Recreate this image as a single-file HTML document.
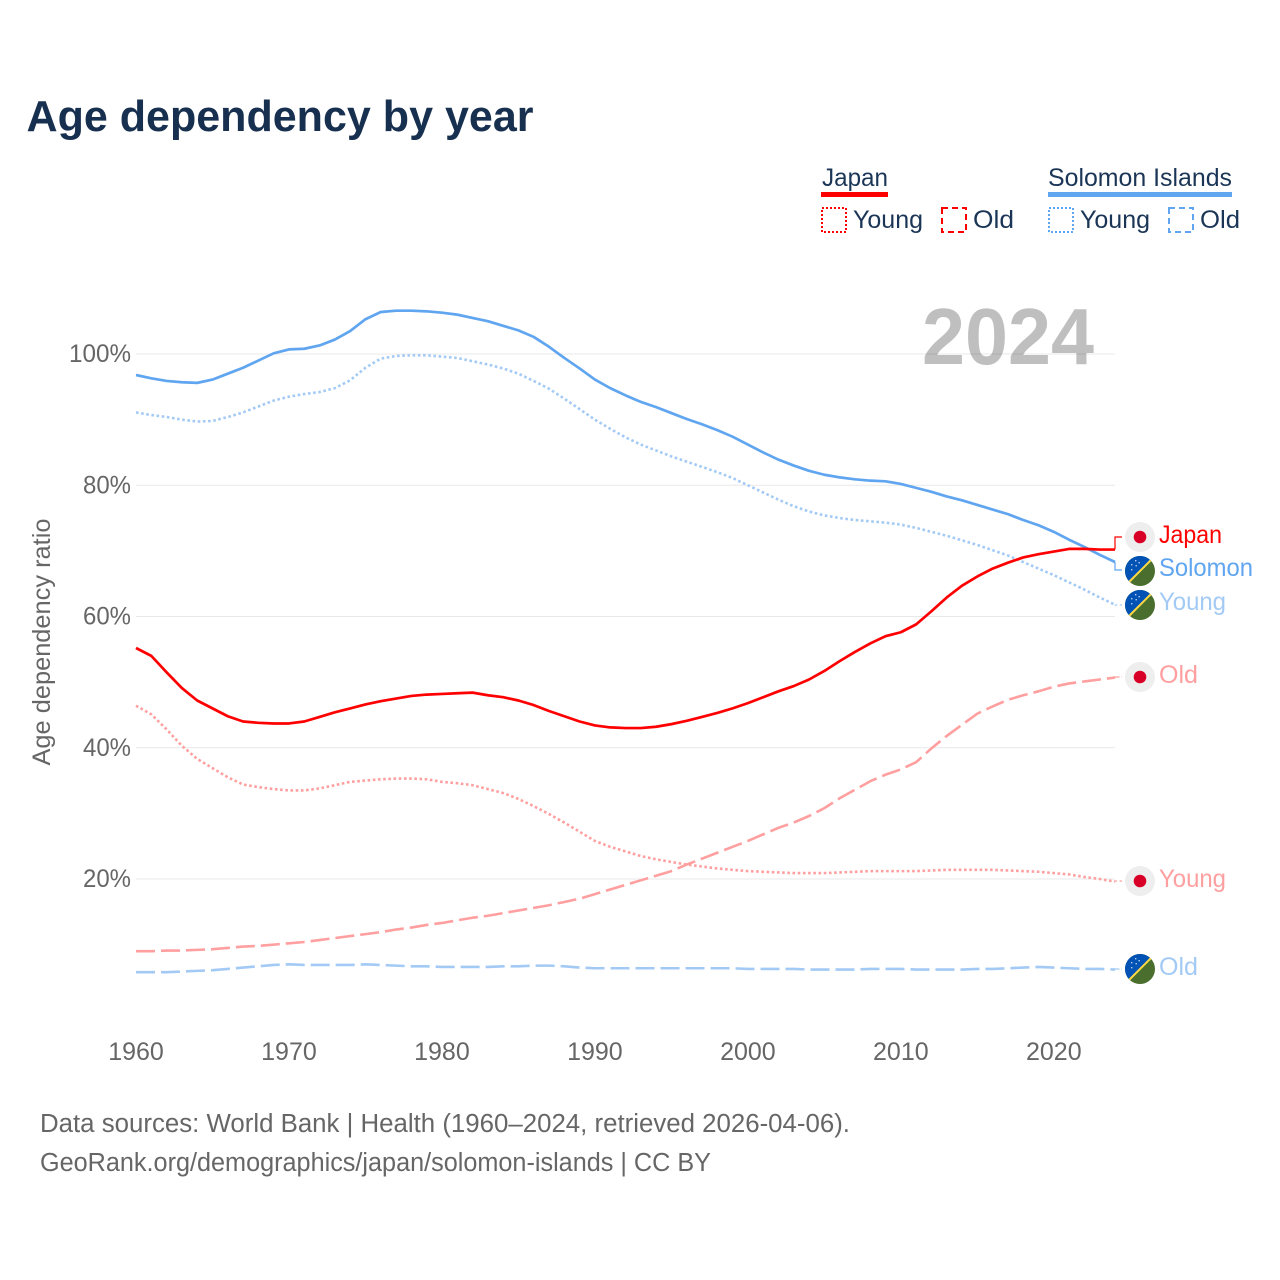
<!DOCTYPE html>
<html lang="en">
<head>
<meta charset="utf-8">
<title>Age dependency by year</title>
<style>
html,body{margin:0;padding:0;background:#fff}
svg{display:block}
text{font-family:"Liberation Sans",sans-serif}
.legend{font-size:25px;fill:#1a3556}
.tick{font-size:25px;fill:#666}
.foot{font-size:25.5px;fill:#666}
.end{font-size:25px}
</style>
</head>
<body>
<svg id="chart" xmlns="http://www.w3.org/2000/svg" width="1280" height="1280" viewBox="0 0 1280 1280">
<defs>
<clipPath id="flag-clip"><circle cx="0" cy="0" r="15"/></clipPath>
<g id="flag-jp"><circle r="15" fill="#eeeeee"/><circle r="6.3" fill="#d80027"/></g>
<g id="flag-sb" clip-path="url(#flag-clip)">
<rect x="-15" y="-15" width="30" height="30" fill="#496e2d"/>
<polygon points="-15,-15 15,-15 -15,15" fill="#0052b4"/>
<line x1="-13" y1="13" x2="13" y2="-13" stroke="#ffda44" stroke-width="2"/>
<g fill="#b9cdea"><rect x="-9" y="-7" width="1.4" height="1.4"/><rect x="-5" y="-11" width="1.4" height="1.4"/><rect x="-4.5" y="-6" width="1.4" height="1.4"/><rect x="-9" y="-2" width="1.4" height="1.4"/><rect x="-1.500" y="-9" width="1.4" height="1.4"/></g>
</g>
</defs>
<rect x="0" y="0" width="1280" height="1280" fill="#ffffff"/>
<text x="26.500" y="131" font-size="44" font-weight="700" fill="#18304f" textLength="507" lengthAdjust="spacingAndGlyphs">Age dependency by year</text>

<g>
<text class="legend" x="822" y="186" textLength="66" lengthAdjust="spacingAndGlyphs">Japan</text>
<rect x="821" y="192" width="67" height="5" fill="#ff0000"/>
<rect x="822" y="208" width="24" height="24" fill="none" stroke="#ff0000" stroke-width="2" stroke-dasharray="2 2"/>
<text class="legend" x="853" y="228" textLength="70" lengthAdjust="spacingAndGlyphs">Young</text>
<rect x="942" y="208" width="24" height="24" fill="none" stroke="#ff0000" stroke-width="2" stroke-dasharray="6 4"/>
<text class="legend" x="973" y="228" textLength="41" lengthAdjust="spacingAndGlyphs">Old</text>
<text class="legend" x="1048" y="186" textLength="184" lengthAdjust="spacingAndGlyphs">Solomon Islands</text>
<rect x="1048" y="192" width="184" height="5" fill="#60a5f0"/>
<rect x="1049" y="208" width="24" height="24" fill="none" stroke="#60a5f0" stroke-width="2" stroke-dasharray="2 2"/>
<text class="legend" x="1080" y="228" textLength="70" lengthAdjust="spacingAndGlyphs">Young</text>
<rect x="1169" y="208" width="24" height="24" fill="none" stroke="#60a5f0" stroke-width="2" stroke-dasharray="6 4"/>
<text class="legend" x="1200" y="228" textLength="40" lengthAdjust="spacingAndGlyphs">Old</text>
</g>

<g id="grid"></g>
<g id="yticks"></g>
<g id="xticks"></g>
<text x="0" y="0" transform="translate(50,642) rotate(-90)" text-anchor="middle" font-size="25" fill="#666" textLength="247" lengthAdjust="spacingAndGlyphs">Age dependency ratio</text>
<text x="922" y="364" font-size="80" font-weight="700" fill="#000000" fill-opacity="0.25" textLength="172" lengthAdjust="spacingAndGlyphs">2024</text>

<g id="series"></g>

<g>
<use href="#flag-jp" x="1140" y="537"/>
<text class="end" x="1159" y="543" fill="#ff0000" textLength="63" lengthAdjust="spacingAndGlyphs">Japan</text>
<use href="#flag-sb" x="1140" y="571"/>
<text class="end" x="1159" y="576" fill="#60a5f0" textLength="94" lengthAdjust="spacingAndGlyphs">Solomon</text>
<use href="#flag-sb" x="1140" y="605"/>
<text class="end" x="1159" y="610" fill="#a3caf5" textLength="67" lengthAdjust="spacingAndGlyphs">Young</text>
<use href="#flag-jp" x="1140" y="677"/>
<text class="end" x="1159" y="683" fill="#ff9f9f" textLength="39" lengthAdjust="spacingAndGlyphs">Old</text>
<use href="#flag-jp" x="1140" y="881"/>
<text class="end" x="1159" y="887" fill="#ff9f9f" textLength="67" lengthAdjust="spacingAndGlyphs">Young</text>
<use href="#flag-sb" x="1140" y="969"/>
<text class="end" x="1159" y="975" fill="#a3caf5" textLength="39" lengthAdjust="spacingAndGlyphs">Old</text>
</g>

<text class="foot" x="40" y="1132" textLength="810" lengthAdjust="spacingAndGlyphs">Data sources: World Bank | Health (1960–2024, retrieved 2026-04-06).</text>
<text class="foot" x="40" y="1171" textLength="671" lengthAdjust="spacingAndGlyphs">GeoRank.org/demographics/japan/solomon-islands | CC BY</text>
</svg>
<script>
var firstYear = 1960;
var lastYear = 2024;
var yTickValues = [20, 40, 60, 80, 100];
var xTickYears = [1960, 1970, 1980, 1990, 2000, 2010, 2020];

var solomonTotal = [96.8,96.3,95.9,95.7,95.6,96.1,97.0,97.9,99.0,100.1,
100.7,100.8,101.3,102.2,103.5,105.3,106.4,106.6,106.6,106.5,
106.3,106.0,105.5,105.0,104.3,103.6,102.6,101.1,99.4,97.8,
96.1,94.8,93.7,92.7,91.9,91.0,90.1,89.3,88.4,87.4,
86.2,85.0,83.9,83.0,82.2,81.6,81.2,80.9,80.7,80.6,
80.2,79.6,79.0,78.3,77.7,77.0,76.3,75.6,74.7,73.9,
72.9,71.7,70.6,69.4,68.3];

var solomonYoung = [91.1,90.7,90.4,90.0,89.7,89.8,90.4,91.1,92.0,92.9,
93.5,93.9,94.2,94.8,96.0,97.9,99.3,99.7,99.8,99.8,
99.6,99.4,98.9,98.4,97.8,97.0,95.9,94.7,93.2,91.6,
90.0,88.6,87.3,86.2,85.3,84.4,83.6,82.8,82.0,81.1,
80.0,78.9,77.8,76.8,76.0,75.4,75.0,74.7,74.5,74.3,
74.0,73.5,72.9,72.3,71.6,70.9,70.1,69.3,68.3,67.3,
66.3,65.2,64.1,62.9,61.8];

var solomonOld = [5.8,5.8,5.8,5.9,6.0,6.1,6.3,6.5,6.7,6.9,
7.0,6.9,6.9,6.9,6.9,7.0,6.9,6.8,6.7,6.7,
6.6,6.6,6.6,6.6,6.7,6.7,6.8,6.8,6.7,6.5,
6.4,6.4,6.4,6.4,6.4,6.4,6.4,6.4,6.4,6.4,
6.3,6.3,6.3,6.3,6.2,6.2,6.2,6.2,6.3,6.3,
6.3,6.2,6.2,6.2,6.2,6.3,6.3,6.4,6.5,6.6,
6.5,6.4,6.3,6.3,6.2];

var japanTotal = [55.2,54.0,51.5,49.1,47.2,46.0,44.8,44.0,43.8,43.7,
43.7,44.0,44.7,45.4,46.0,46.6,47.1,47.5,47.9,48.1,
48.2,48.3,48.4,48.0,47.7,47.2,46.5,45.6,44.8,44.0,
43.4,43.1,43.0,43.0,43.2,43.6,44.1,44.7,45.3,46.0,
46.8,47.7,48.6,49.4,50.4,51.7,53.2,54.6,55.9,57.0,
57.6,58.8,60.8,62.9,64.7,66.1,67.3,68.2,69.0,69.5,
69.9,70.3,70.3,70.2,70.2];

var japanYoung = [46.4,45.1,42.8,40.3,38.3,36.9,35.5,34.4,34.0,33.7,
33.5,33.5,33.8,34.3,34.8,35.0,35.2,35.3,35.3,35.2,
34.8,34.6,34.3,33.7,33.1,32.2,31.1,29.9,28.6,27.2,
25.8,24.9,24.2,23.5,23.0,22.6,22.2,21.9,21.6,21.4,
21.2,21.1,21.0,20.9,20.9,20.9,21.0,21.1,21.2,21.2,
21.2,21.2,21.3,21.4,21.4,21.4,21.4,21.3,21.2,21.1,
20.9,20.7,20.3,20.0,19.6];

var japanOld = [9.0,9.0,9.1,9.1,9.2,9.3,9.5,9.7,9.8,10.0,
10.2,10.4,10.7,11.0,11.3,11.6,11.9,12.3,12.6,13.0,
13.3,13.7,14.1,14.4,14.8,15.2,15.6,16.0,16.5,17.0,
17.7,18.4,19.1,19.8,20.5,21.2,22.2,23.1,24.0,24.9,
25.8,26.8,27.8,28.6,29.6,30.8,32.3,33.6,34.9,35.9,
36.7,37.8,39.9,41.8,43.5,45.2,46.3,47.3,48.0,48.6,
49.3,49.8,50.1,50.4,50.7];

var NS = 'http://www.w3.org/2000/svg';
function xScale(year) { return 136 + (year - firstYear) * (1115 - 136) / (lastYear - firstYear); }
function yScale(value) { return 1010.25 - value * 6.5625; }

var gridLayer = document.getElementById('grid');
var yLayer = document.getElementById('yticks');
var xLayer = document.getElementById('xticks');
var seriesLayer = document.getElementById('series');

yTickValues.forEach(function (v) {
  var line = document.createElementNS(NS, 'line');
  
  
  line.setAttribute('x1', 136);
  line.setAttribute('x2', 1115);
  line.setAttribute('y1', yScale(v));
  line.setAttribute('y2', yScale(v));
  line.setAttribute('stroke', '#e8e8e8');
  line.setAttribute('stroke-width', 1);
  gridLayer.appendChild(line);
  var label = document.createElementNS(NS, 'text');
  
  
  label.setAttribute('class', 'tick');
  label.setAttribute('x', 131);
  label.setAttribute('y', yScale(v) + 8);
  label.setAttribute('text-anchor', 'end');
  label.setAttribute('textLength', String(v).length * 14 + 20);
  label.setAttribute('lengthAdjust', 'spacingAndGlyphs');
  label.textContent = v + '%';
  yLayer.appendChild(label);
});

xTickYears.forEach(function (yr) {
  var label = document.createElementNS(NS, 'text');
  
  
  label.setAttribute('class', 'tick');
  label.setAttribute('x', xScale(yr));
  label.setAttribute('y', 1060);
  label.setAttribute('text-anchor', 'middle');
  label.textContent = yr;
  xLayer.appendChild(label);
});

function drawSeries(values, name, color, width, dash, labelY) {
  var d = values.map(function (v, i) {
    return (i ? 'L' : 'M') + xScale(firstYear + i).toFixed(2) + ' ' + yScale(v).toFixed(2);
  }).join(' ');
  var path = document.createElementNS(NS, 'path');
  
  
  path.setAttribute('d', d);
  path.setAttribute('fill', 'none');
  path.setAttribute('stroke', color);
  path.setAttribute('stroke-width', width);
  path.setAttribute('stroke-linejoin', 'round');
  if (dash) path.setAttribute('stroke-dasharray', dash);
  seriesLayer.appendChild(path);
  var endX = xScale(lastYear);
  var endY = yScale(values[values.length - 1]);
  var leader = document.createElementNS(NS, 'path');
  
  
  leader.setAttribute('d', 'M' + endX + ' ' + endY.toFixed(2) + ' L' + endX + ' ' + labelY + ' L1122 ' + labelY);
  leader.setAttribute('fill', 'none');
  leader.setAttribute('stroke', color);
  leader.setAttribute('stroke-width', 1.2);
  if (dash) leader.setAttribute('stroke-dasharray', dash === '19 6' ? '5 2' : dash);
  seriesLayer.appendChild(leader);
}

drawSeries(solomonOld, 'solomon-old-line', '#a3caf5', 2.6, '19 6', 969);
drawSeries(japanOld, 'japan-old-line', '#ff9f9f', 2.6, '19 6', 677);
drawSeries(japanYoung, 'japan-young-line', '#ff9f9f', 2.6, '2.6 2.6', 881);
drawSeries(solomonYoung, 'solomon-young-line', '#a3caf5', 2.6, '2.6 2.6', 605);
drawSeries(solomonTotal, 'solomon-total-line', '#60a5f0', 2.7, '', 570);
drawSeries(japanTotal, 'japan-total-line', '#ff0000', 2.7, '', 537);
</script>
</body>
</html>
